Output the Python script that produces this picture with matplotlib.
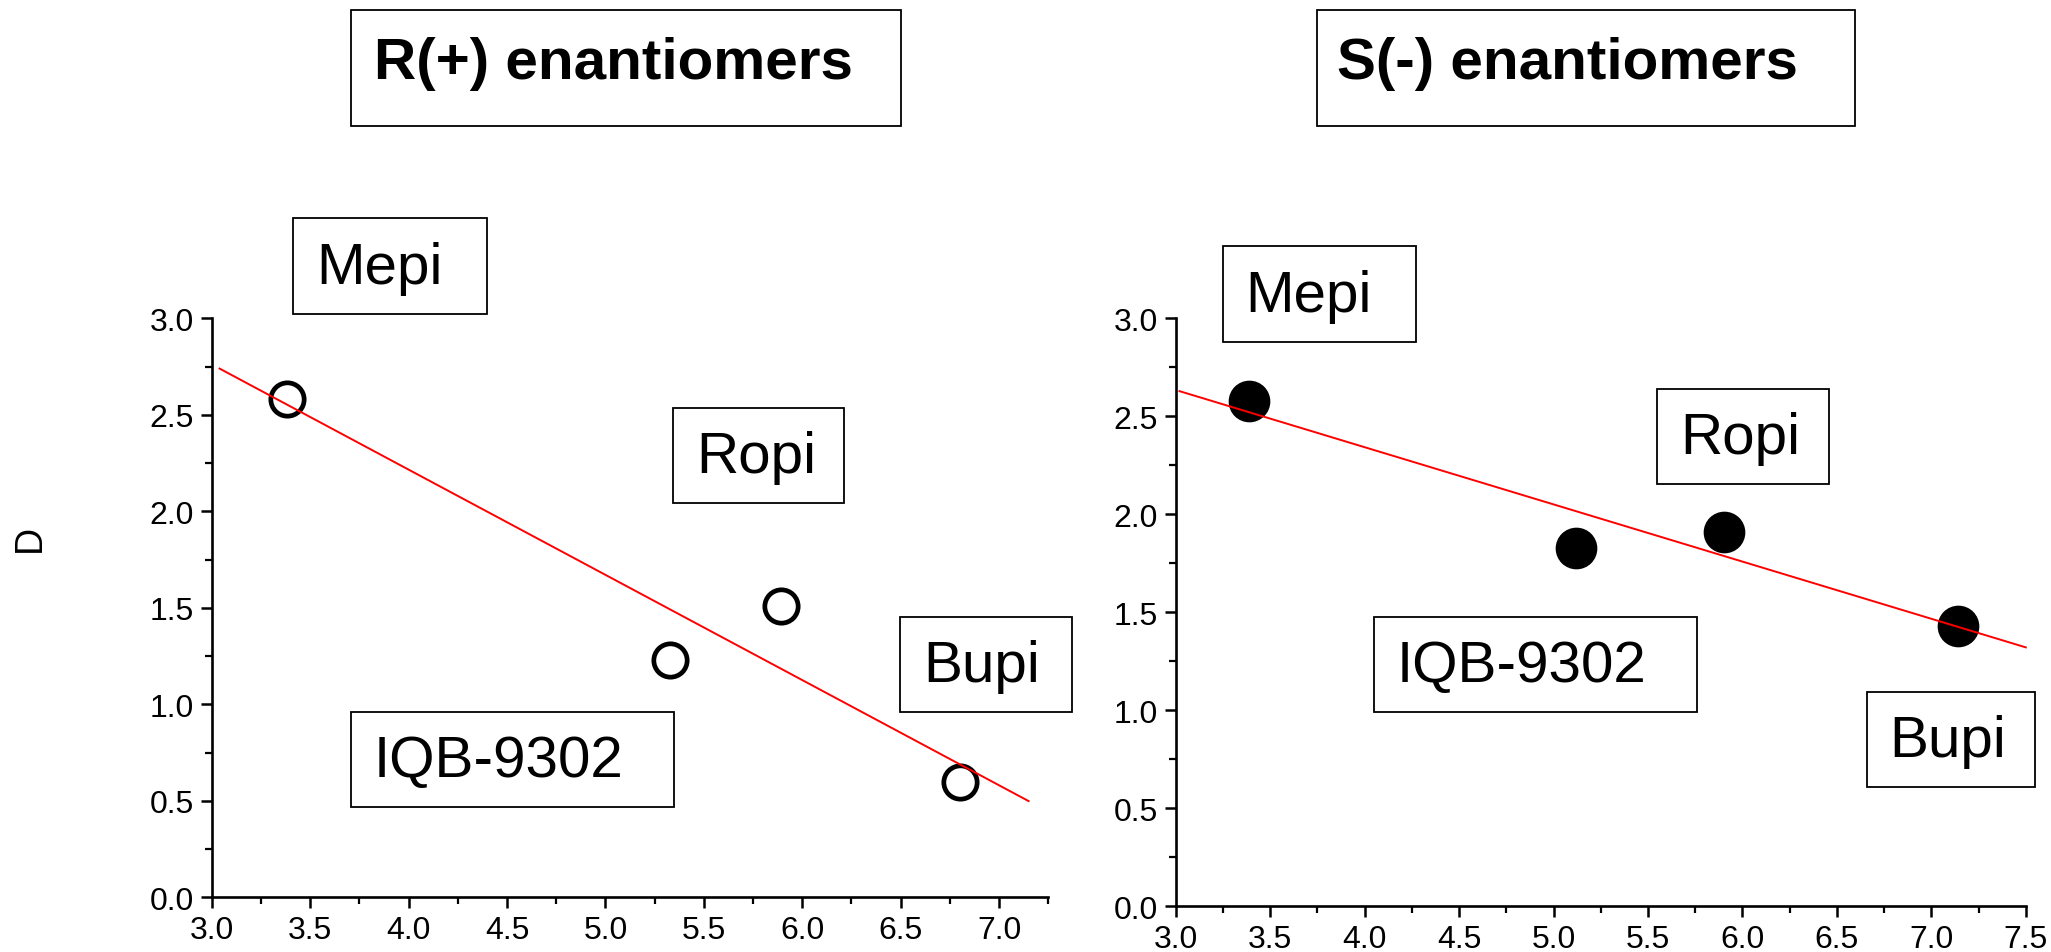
import matplotlib
matplotlib.use("Agg")
import matplotlib.pyplot as plt
from matplotlib.patches import Rectangle
from matplotlib.ticker import MultipleLocator, AutoMinorLocator
import numpy as np

plt.rcParams['font.family'] = ['Liberation Sans', 'DejaVu Sans']

# data
drugs = ["Mepi", "IQB-9302", "Ropi", "Bupi"]
r_x = [3.38, 5.33, 5.89, 6.80]
r_y = [2.58, 1.23, 1.51, 0.60]
s_x = [3.39, 5.12, 5.90, 7.14]
s_y = [2.58, 1.83, 1.91, 1.43]
r_fit_range = [3.04, 7.15]
s_fit_range = [3.02, 7.50]
titles = ["R(+) enantiomers", "S(-) enantiomers"]

W, H = 2051, 953
fig = plt.figure(figsize=(W / 100, H / 100), dpi=100)


def fig_xy(x, y):
     return x / W, 1 - y / H


def axes_rect(x0, y_top, x1, y_bot):
     return [x0 / W, 1 - y_bot / H, (x1 - x0) / W, (y_bot - y_top) / H]


def box(text, x0, y0, x1, y1, dx, base, **kw):
     fig.patches.append(Rectangle(fig_xy(x0, y1), (x1 - x0) / W, (y1 - y0) / H,
                                  transform=fig.transFigure, fill=False,
                                  edgecolor="black", linewidth=1.3))
     fx, fy = fig_xy(x0 + dx, base)
     fig.text(fx, fy, text, ha="left", va="baseline", **kw)


def style_axes(ax, xmax):
     ax.set_xlim(3.0, xmax)
     ax.set_ylim(0.0, 3.0)
     ax.spines["top"].set_visible(False)
     ax.spines["right"].set_visible(False)
     for s in ["left", "bottom"]:
          ax.spines[s].set_linewidth(1.9)
     ax.xaxis.set_major_locator(MultipleLocator(0.5))
     ax.yaxis.set_major_locator(MultipleLocator(0.5))
     ax.xaxis.set_minor_locator(AutoMinorLocator(2))
     ax.yaxis.set_minor_locator(AutoMinorLocator(2))
     ax.xaxis.set_major_formatter(matplotlib.ticker.FormatStrFormatter("%.1f"))
     ax.yaxis.set_major_formatter(matplotlib.ticker.FormatStrFormatter("%.1f"))
     ax.tick_params(which="major", direction="out", length=8, width=1.8,
                    labelsize=23, pad=5)
     ax.tick_params(which="minor", direction="out", length=5, width=1.6)
     ax.patch.set_visible(False)


ax1 = fig.add_axes(axes_rect(211.7, 319.3, 1048.3, 898.3))
ax2 = fig.add_axes(axes_rect(1175.7, 319.3, 2025.8, 907.3))
style_axes(ax1, 7.25)
style_axes(ax2, 7.5)

# R(+) : open circles
ax1.plot(r_x, r_y, "o", ms=24, mfc="none", mec="black", mew=3.4,
         zorder=2, clip_on=False)
k, b = np.polyfit(r_x, r_y, 1)
xf = np.array(r_fit_range)
ax1.plot(xf, k * xf + b, color="red", lw=1.4, zorder=3, clip_on=False)

# S(-) : filled circles
ax2.plot(s_x, s_y, "o", ms=29, mfc="black", mec="black", mew=1,
         zorder=2, clip_on=False)
k, b = np.polyfit(s_x, s_y, 1)
xf = np.array(s_fit_range)
ax2.plot(xf, k * xf + b, color="red", lw=1.4, zorder=3, clip_on=False)

fx, fy = fig_xy(30, 538.7)
fig.text(fx, fy, "D", rotation=90, ha="center", va="center", fontsize=27)

# title boxes
box(titles[0], 350.5, 10.5, 901.2, 126.9, 24, 79.4, fontsize=42, fontweight="bold")
box(titles[1], 1317, 10.5, 1854.7, 126.9, 20, 79.4, fontsize=42, fontweight="bold")

# label boxes (x0, y0, x1, y1)
left_boxes = {"Mepi": (293.3, 219.3, 487.3, 315.3),
              "Ropi": (673.3, 409.3, 844.3, 504.3),
              "Bupi": (900, 617.7, 1072.3, 713.3),
              "IQB-9302": (351, 712.7, 674.3, 807.7)}
right_boxes = {"Mepi": (1222.7, 247.3, 1415.7, 343.3),
               "Ropi": (1657.3, 390, 1828.6, 485.3),
               "IQB-9302": (1374, 617.7, 1696.7, 713.3),
               "Bupi": (1866.7, 693.3, 2035, 788.3)}
for name in drugs:
     for bx in (left_boxes, right_boxes):
          x0, y0, x1, y1 = bx[name]
          box(name, x0, y0, x1, y1, 23, y1 - 31, fontsize=42)

fig.savefig("out.png", dpi=100)
